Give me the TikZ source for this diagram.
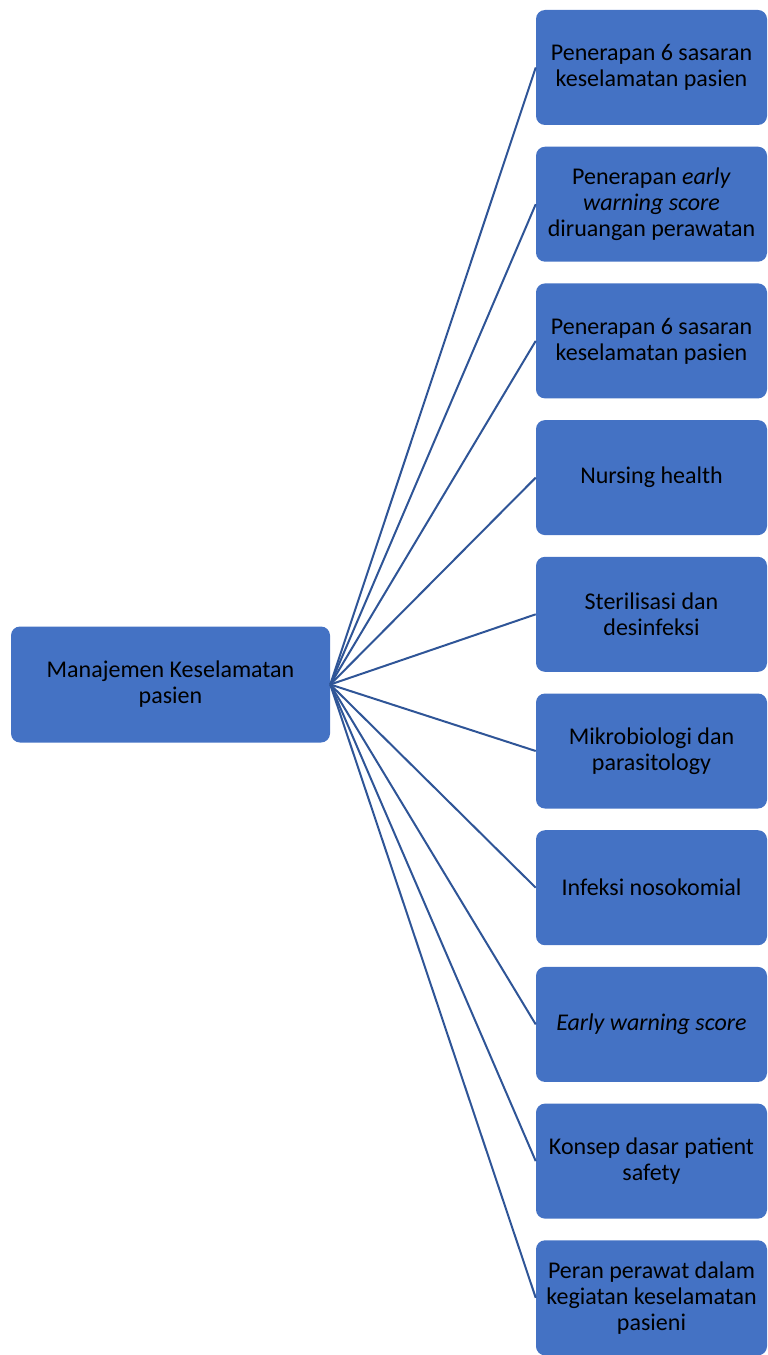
\documentclass[tikz,border=0pt]{standalone}
\usepackage{fontspec}
\setmainfont{Carlito}
\definecolor{boxblue}{HTML}{4472C4}
\definecolor{lineblue}{HTML}{2F5597}

\tikzset{
  mainbox/.style={fill=boxblue, rounded corners=6.75pt, inner sep=0pt,
    minimum width=239.25pt, minimum height=87pt, align=center,
    font=\fontsize{18}{19.5}\selectfont},
  subbox/.style={fill=boxblue, rounded corners=6.75pt, inner sep=0pt,
    minimum width=173.25pt, minimum height=86.25pt, align=center,
    font=\fontsize{18}{19.5}\selectfont},
  conn/.style={draw=lineblue, line width=1.5pt}
}

\begin{document}
\begin{tikzpicture}[x=0.75pt,y=-0.75pt]
                \useasboundingbox (0,0) rectangle (767,1355);
                \node[mainbox] (mks) at (170.5,684.5) {Manajemen Keselamatan\\pasien};
                \node[subbox] (s0) at (651.5,67.5) {Penerapan 6 sasaran\\keselamatan pasien};
                \node[subbox] (s1) at (651.5,204.2) {Penerapan \textit{early}\\\textit{warning score}\\diruangan perawatan};
                \node[subbox] (s2) at (651.5,340.9) {Penerapan 6 sasaran\\keselamatan pasien};
                \node[subbox] (s3) at (651.5,477.6) {Nursing health};
                \node[subbox] (s4) at (651.5,614.3) {Sterilisasi dan\\desinfeksi};
                \node[subbox] (s5) at (651.5,751.0) {Mikrobiologi dan\\parasitology};
                \node[subbox] (s6) at (651.5,887.7) {Infeksi nosokomial};
                \node[subbox] (s7) at (651.5,1024.4) {\textit{Early warning score}};
                \node[subbox] (s8) at (651.5,1161.1) {Konsep dasar patient\\safety};
                \node[subbox] (s9) at (651.5,1297.8) {Peran perawat dalam\\kegiatan keselamatan\\pasieni};
                \foreach \i in {0,...,9}
                  \draw[conn] (mks.east) -- (s\i.west);
            \end{tikzpicture}
\end{document}
